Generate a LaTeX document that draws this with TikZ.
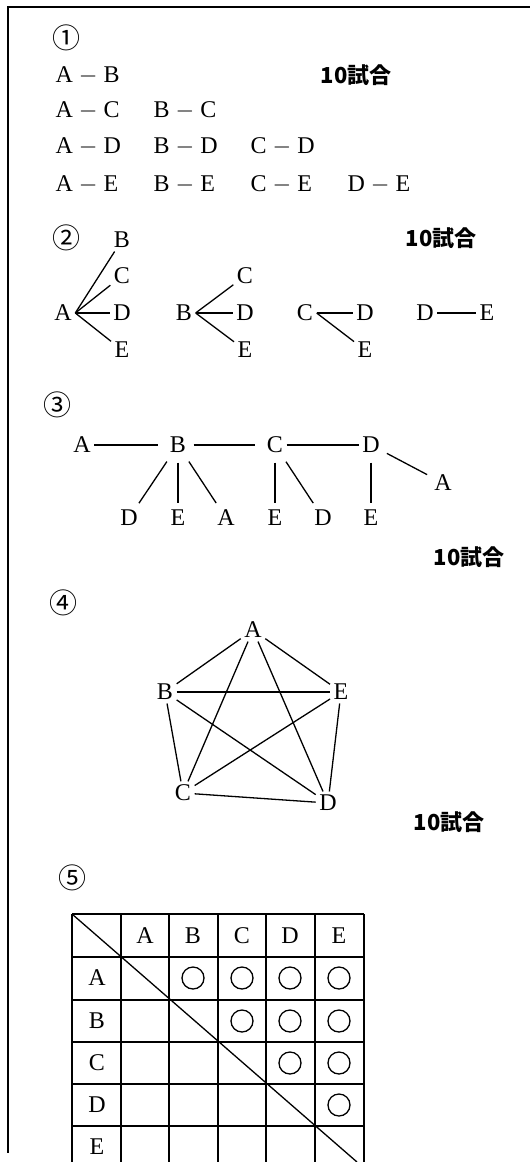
\documentclass[tikz,border=0pt]{standalone}
\usepackage{amsmath, amssymb}
\usepackage{xcolor}
\usepackage{fontspec}
\setmainfont{Liberation Serif}
\newfontfamily\cjk{Noto Sans CJK JP}
\usepackage{tikz}
\usetikzlibrary{positioning}

\begin{document}
\begin{tikzpicture}[x=0.5pt, y=-0.5pt, line width=0.65pt,
		team/.style={inner sep=1.5pt, font=\fontsize{12}{14}\selectfont},
		pair/.style={inner sep=0pt, anchor=west, font=\fontsize{12}{14}\selectfont},
		games/.style={inner sep=0pt, anchor=west, font=\fontsize{11}{13}\selectfont\cjk\bfseries},
		num/.style={inner sep=0pt, font=\fontsize{14}{16}\selectfont\cjk}]
			
			\useasboundingbox (0,0) rectangle (530,1162);
			
			% Frame
			\draw[line width=0.9pt] (530,7) -- (8,7) -- (8,1153);
			
			% (1) list of pairs
			\node[num] (n1) at (66,38) {①};
			\node[pair] (p1ab) at (55,76) {A $-$ B};
			\node[pair] (p1ac) at (55,111) {A $-$ C};
			\node[pair] (p1bc) at (153,111) {B $-$ C};
			\node[pair] (p1ad) at (55,147) {A $-$ D};
			\node[pair] (p1bd) at (153,147) {B $-$ D};
			\node[pair] (p1cd) at (250,147) {C $-$ D};
			\node[pair] (p1ae) at (55,185) {A $-$ E};
			\node[pair] (p1be) at (153,185) {B $-$ E};
			\node[pair] (p1ce) at (250,185) {C $-$ E};
			\node[pair] (p1de) at (347,185) {D $-$ E};
			\node[games] (g1) at (320,75) {10試合};
			
			% (2) fans
			\node[num] (n2) at (66,238) {②};
			\node[games] (g2) at (405,238) {10試合};
			\node[team] (a2) at (63,313) {A};
			\node[team] (a2b) at (122,240) {B};
			\node[team] (a2c) at (122,276) {C};
			\node[team] (a2d) at (122,313) {D};
			\node[team] (a2e) at (122,350) {E};
			\foreach \t in {a2b,a2c,a2d,a2e}
				\draw (a2.east) -- (\t);
			\node[team] (b2) at (184,313) {B};
			\node[team] (b2c) at (245,276) {C};
			\node[team] (b2d) at (245,313) {D};
			\node[team] (b2e) at (245,350) {E};
			\foreach \t in {b2c,b2d,b2e}
				\draw (b2.east) -- (\t);
			\node[team] (c2) at (305,313) {C};
			\node[team] (c2d) at (365,313) {D};
			\node[team] (c2e) at (365,350) {E};
			\foreach \t in {c2d,c2e}
				\draw (c2.east) -- (\t);
			\node[team] (d2) at (425,313) {D};
			\node[team] (d2e) at (487,313) {E};
			\draw (d2) -- (d2e);
			
			% (3) chain
			\node[num] (n3) at (57,405) {③};
			\node[team] (a3) at (82,445) {A};
			\node[team] (b3) at (178,445) {B};
			\node[team] (c3) at (275,445) {C};
			\node[team] (d3) at (371,445) {D};
			\node[team] (a3r) at (443,483) {A};
			\node[team] (b3d) at (129,518) {D};
			\node[team] (b3e) at (178,518) {E};
			\node[team] (b3a) at (226,518) {A};
			\node[team] (c3e) at (275,518) {E};
			\node[team] (c3d) at (323,518) {D};
			\node[team] (d3e) at (371,518) {E};
			\draw[shorten >=4pt] (a3) -- (b3);
			\draw[shorten <=2pt, shorten >=4pt] (b3) -- (c3);
			\draw (c3) -- (d3);
			\draw[shorten <=2pt, shorten >=2pt] (d3) -- (a3r);
			\foreach \t in {b3d,b3e,b3a}
				\draw[shorten <=3pt, shorten >=2pt] (b3) -- (\t);
			\foreach \t in {c3e,c3d}
				\draw[shorten <=3pt, shorten >=2pt] (c3) -- (\t);
			\draw[shorten <=3pt, shorten >=2pt] (d3) -- (d3e);
			\node[games] (g3) at (433,557) {10試合};
			
			% (4) pentagon
			\node[num] (n4) at (63,603) {④};
			\node[team] (a4) at (253,630) {A};
			\node[team] (b4) at (165,692) {B};
			\node[team] (e4) at (341,692) {E};
			\node[team] (c4) at (183,793) {C};
			\node[team] (d4) at (328,803) {D};
			\foreach \s/\t in {a4/b4,a4/e4,a4/c4,a4/d4,b4/e4,b4/c4,b4/d4,e4/c4,e4/d4,c4/d4}
				\draw (\s) -- (\t);
			\node[games] (g4) at (413,822) {10試合};
			
			% (5) table
			\node[num] (n5) at (72,878) {⑤};
			\foreach \x in {72,121,169,218,266,315,364}
				\draw (\x,914) -- (\x,1162);
			\foreach \y in {914,957,1000,1042,1084,1126}
				\draw (72,\y) -- (364,\y);
			\draw (72,914) -- (357,1162);
			\foreach \n/\x in {A/145,B/193,C/242,D/290,E/339}
				\node[team] (col\n) at (\x,936) {\n};
			\foreach \n/\y in {A/978,B/1021,C/1063,D/1105,E/1147}
				\node[team] (row\n) at (97,\y) {\n};
			\foreach \x/\y in {193/978,242/978,290/978,339/978,242/1021,290/1021,339/1021,290/1063,339/1063,339/1105}
				\draw (\x,\y) circle[radius=11];
			
		\end{tikzpicture}
\end{document}
